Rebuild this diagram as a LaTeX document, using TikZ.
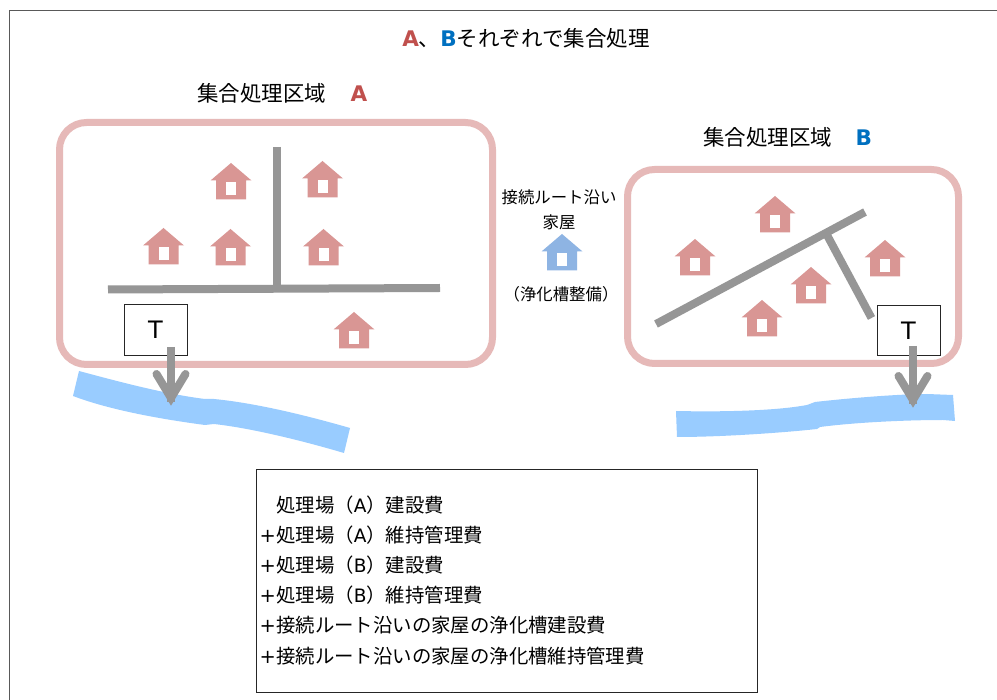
\documentclass[tikz,border=0pt]{standalone}
\usepackage{fontspec}
\setmainfont{DejaVu Sans}
\newfontfamily\cjk{Noto Sans CJK JP}
\usetikzlibrary{calc}
\definecolor{housered}{HTML}{D99694}
\definecolor{houseblue}{HTML}{8EB4E3}
\definecolor{zone}{HTML}{E6B9B8}
\definecolor{road}{HTML}{969696}
\definecolor{river}{HTML}{99CCFF}
\definecolor{labA}{HTML}{C0504D}
\definecolor{labB}{HTML}{0070C0}
\newcommand{\fsz}[1]{\fontsize{#1}{#1}\selectfont}
\newcommand{\LA}{\textcolor{labA}{\normalfont\bfseries A}}
\newcommand{\LB}{\textcolor{labB}{\normalfont\bfseries B}}
\newcommand{\plusbox}{\makebox[16.5pt][l]{\normalfont +}}
\newcommand{\LatA}{{\normalfont\fsz{18.5}A}}
\newcommand{\LatB}{{\normalfont\fsz{18.5}B}}
\tikzset{
  zonebox/.style={draw=zone,line width=7pt,rounded corners=27pt},
  roadline/.style={draw=road,line width=8pt},
  riverfill/.style={fill=river,draw=none},
  tankbox/.style={draw=black!85,line width=1pt,fill=white,minimum width=63pt,minimum height=50.5pt,inner sep=0pt,font=\fsz{24}},
  outshaft/.style={draw=road,line width=8pt},
  outbarb/.style={draw=road,line width=8pt,line cap=round,line join=miter},
  head/.style={font=\cjk\fsz{21.5},inner sep=0pt,anchor=base west},
  small/.style={font=\cjk\fsz{16.4},inner sep=0pt,anchor=base},
  house/.pic={
    \fill[pic actions] (0,0) -- (20.5,17.5) -- (15,17.5) -- (15,36.5) -- (-15,36.5) -- (-15,17.5) -- (-20.5,17.5) -- cycle;
    \fill[white] (-5,19.5) rectangle (5,32);
  }
}
\begin{document}
\begin{tikzpicture}[x=1pt,y=-1pt]
\useasboundingbox (0,0) rectangle (997,700);
\fill[white] (0,0) rectangle (997,700);
\draw[black!65,line width=1pt] (1000,11) -- (9.5,11) -- (9.5,703);

\node[font=\cjk\fsz{21.5},inner sep=0pt,anchor=base] (title) at (526,47) {\LA、\LB それぞれで集合処理};
\node[head] (headA) at (197,102) {集合処理区域\hspace{24.5pt}\LA};
\node[head] (headB) at (703,146) {集合処理区域\hspace{23.5pt}\LB};

% rivers
\fill[riverfill] (79,371) .. controls (120,382) and (165,394) .. (205,399) -- (214,399)
  .. controls (255,403) and (305,415) .. (350,428) -- (344,453)
  .. controls (300,440) and (250,428) .. (214,424) -- (205,425)
  .. controls (160,419) and (110,410) .. (73,396) -- cycle;
\fill[riverfill] (676,411) .. controls (720,412) and (775,411) .. (807,405) -- (815,402)
  .. controls (850,398) and (900,394) .. (927,394) -- (953,395) -- (955,421) -- (943,420)
  .. controls (900,420) and (850,423) .. (820,427) -- (817,429)
  .. controls (780,433) and (720,437) .. (677,437) -- cycle;

% zones
\draw[zonebox] (59.5,122.5) rectangle (492.5,364.5);
\draw[zonebox] (627.5,169.5) rectangle (958.5,363.5);

% roads
\coordinate (ra1) at (277,147);
\coordinate (ra2) at (277,288);
\coordinate (ra3) at (108,289.5);
\coordinate (ra4) at (440,288);
\draw[roadline] (ra1) -- (ra2);
\draw[roadline] (ra3) -- (ra4);
\coordinate (rb1) at (656,324);
\coordinate (rb2) at (865,212);
\coordinate (rb3) at (827,235);
\coordinate (rb4) at (871.5,318);
\draw[roadline] (rb1) -- (rb2);
\draw[roadline] (rb3) -- (rb4);

% houses
\foreach \hx/\hy in {231/163,322.5/161,163.5/228,230.5/229,323.5/229,354/312,775/196,695/239,885/240,811/267,762/300}
  \pic[fill=housered] at (\hx,\hy) {house};
\pic[fill=houseblue] at (562,234) {house};

% middle labels
\node[small] (m1) at (559,204) {接続ルート沿い};
\node[small] (m2) at (559,229) {家屋};
\node[small] (m3) at (561,301) {（浄化槽整備）};

% tanks
\node[tankbox] (ta) at (155.5,330) {\raisebox{-2pt}{T}};
\node[tankbox] (tb) at (908.5,330.5) {\raisebox{-2pt}{T}};
\coordinate (ta0) at (171,347);
\coordinate (ta1) at (171,402);
\coordinate (tb0) at (913,346);
\coordinate (tb1) at (913,404);
\draw[outshaft] (ta0) -- (ta1);
\draw[outbarb] ($(ta1)+(-14.5,-28)$) -- ($(ta1)+(0,-4)$) -- ($(ta1)+(14.5,-28)$);
\draw[outshaft] (tb0) -- (tb1);
\draw[outbarb] ($(tb1)+(-14.5,-28)$) -- ($(tb1)+(0,-4)$) -- ($(tb1)+(14.5,-28)$);

% cost box
\node[draw=black!85,line width=1pt,fill=white,minimum width=501pt,minimum height=222pt,inner sep=0pt] (cost) at (506.5,581) {};
\begin{scope}[every node/.style={font=\cjk\fsz{19.4},inner sep=0pt,anchor=base west}]
\node (c1) at (276,513) {処理場（\LatA）建設費};
\node (c2) at (259.5,543) {\plusbox 処理場（\LatA）維持管理費};
\node (c3) at (259.5,573) {\plusbox 処理場（\LatB）建設費};
\node (c4) at (259.5,603) {\plusbox 処理場（\LatB）維持管理費};
\node (c5) at (259.5,633) {\plusbox 接続ルート沿いの家屋の浄化槽建設費};
\node (c6) at (259.5,663) {\plusbox 接続ルート沿いの家屋の浄化槽維持管理費};
\end{scope}
\end{tikzpicture}
\end{document}
